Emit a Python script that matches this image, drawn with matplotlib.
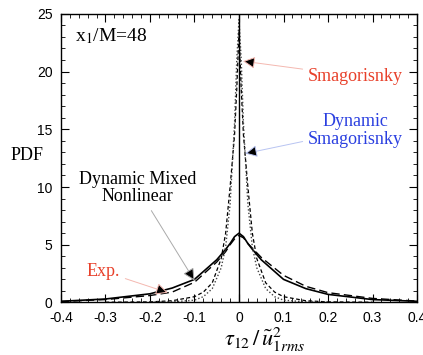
import matplotlib
matplotlib.use("Agg")
import matplotlib.pyplot as plt
from matplotlib.ticker import MultipleLocator, FixedLocator

# curves (x = tau12 / u1rms^2, y = PDF)
x_dmn = [-0.4, -0.3, -0.2, -0.15, -0.1, -0.05, -0.03, -0.02, -0.01, 0.0,
         0.01, 0.02, 0.03, 0.05, 0.1, 0.15, 0.2, 0.3, 0.4]
y_dmn = [0.1, 0.3, 0.75, 1.25, 2.0, 3.7, 4.6, 5.1, 5.7, 6.0,
         5.7, 5.1, 4.6, 3.7, 2.0, 1.2, 0.7, 0.25, 0.1]

x_exp = [-0.4, -0.3, -0.2, -0.15, -0.1, -0.05, -0.03, -0.02, -0.01, 0.0,
         0.01, 0.02, 0.03, 0.05, 0.1, 0.15, 0.2, 0.3, 0.4]
y_exp = [0.08, 0.25, 0.6, 0.9, 1.75, 3.5, 4.4, 5.0, 5.5, 5.8,
         5.6, 5.1, 4.7, 3.9, 2.35, 1.4, 0.85, 0.35, 0.12]

x_dsm = [-0.3, -0.2, -0.15, -0.1, -0.08, -0.06, -0.04, -0.03, -0.02, -0.01, -0.005, 0.0,
         0.005, 0.01, 0.02, 0.03, 0.04, 0.06, 0.08, 0.1, 0.15, 0.2, 0.3]
y_dsm = [0.02, 0.05, 0.15, 0.5, 0.9, 1.7, 3.8, 6.0, 10.0, 14.5, 18.5, 23.5,
         18.5, 14.5, 10.0, 6.0, 3.8, 1.7, 0.9, 0.5, 0.15, 0.05, 0.02]

x_smg = [-0.2, -0.15, -0.1, -0.08, -0.06, -0.04, -0.03, -0.02, -0.01, -0.005, 0.0,
         0.005, 0.01, 0.02, 0.03, 0.04, 0.06, 0.08, 0.1, 0.15, 0.2]
y_smg = [0.02, 0.05, 0.2, 0.5, 1.2, 3.0, 4.8, 8.5, 15.5, 21.0, 24.5,
         21.0, 15.5, 8.5, 4.8, 3.0, 1.2, 0.5, 0.2, 0.05, 0.02]

x_ticks = [-0.4, -0.3, -0.2, -0.1, 0.0, 0.1, 0.2, 0.3, 0.4]
x_ticklabels = ["-0.4", "-0.3", "-0.2", "-0.1", "0", "0.1", "0.2", "0.3", "0.4"]
y_ticks = [0, 5, 10, 15, 20, 25]

serif = "Liberation Serif"
plt.rcParams["font.family"] = "Liberation Sans"
plt.rcParams["mathtext.fontset"] = "stix"

fig = plt.figure(figsize=(4.23, 3.55), dpi=100)
ax = fig.add_axes([0.144, 0.148, 0.842, 0.813])

ax.plot(x_dmn, y_dmn, color="black", lw=1.2, ls="-")
ax.plot(x_exp, y_exp, color="black", lw=1.0, ls=(0, (6, 3)))
ax.plot(x_dsm, y_dsm, color="black", lw=0.9, ls=(0, (3, 2)))
ax.plot(x_smg, y_smg, color="#444444", lw=1.0, ls=(0, (1, 1.5)))
ax.plot([0, 0], [0, 25], color="black", lw=1.0)

ax.set_xlim(-0.4, 0.4)
ax.set_ylim(0, 25)
ax.xaxis.set_major_locator(FixedLocator(x_ticks))
ax.set_xticklabels(x_ticklabels)
ax.xaxis.set_minor_locator(MultipleLocator(0.02))
ax.yaxis.set_major_locator(FixedLocator(y_ticks))
ax.yaxis.set_minor_locator(MultipleLocator(1))
ax.tick_params(which="both", direction="in", top=True, right=True, labelsize=10, pad=6)
ax.tick_params(which="major", length=6)
ax.tick_params(which="minor", length=3)
for s in ax.spines.values():
    s.set_linewidth(1.0)

ax.text(-0.368, 23.1, "x$_1$/M=48", family=serif, fontsize=14, va="center", ha="left")
fig.text(0.024, 0.563, "PDF", family=serif, fontsize=13, va="center", ha="left")
ax.set_xlabel(r"$\tau_{12}\,/\,\tilde{u}^{2}_{1rms}$", fontsize=16)
ax.xaxis.set_label_coords(0.573, -0.082)

def note(text, xy, xytext, color, lcolor):
    ax.annotate(text, xy=xy, xytext=xytext, color=color, family=serif, fontsize=13,
                ha="center", va="center", linespacing=1.05,
                arrowprops=dict(arrowstyle="-|>", fc="black", ec=lcolor, lw=0.7,
                                mutation_scale=18, shrinkA=2, shrinkB=0))

note("Smagorisnky", (0.009, 20.9), (0.262, 19.6), "#e8402a", "#f4b8b0")
note("Dynamic\nSmagorisnky", (0.014, 12.9), (0.262, 14.9), "#2a3fe0", "#b8c4f2")
note("Dynamic Mixed\nNonlinear", (-0.1, 1.9), (-0.228, 9.9), "black", "#aaaaaa")
note("Exp.", (-0.16, 0.85), (-0.305, 2.7), "#e8402a", "#f4b8b0")

fig.savefig("out.png", dpi=100)
